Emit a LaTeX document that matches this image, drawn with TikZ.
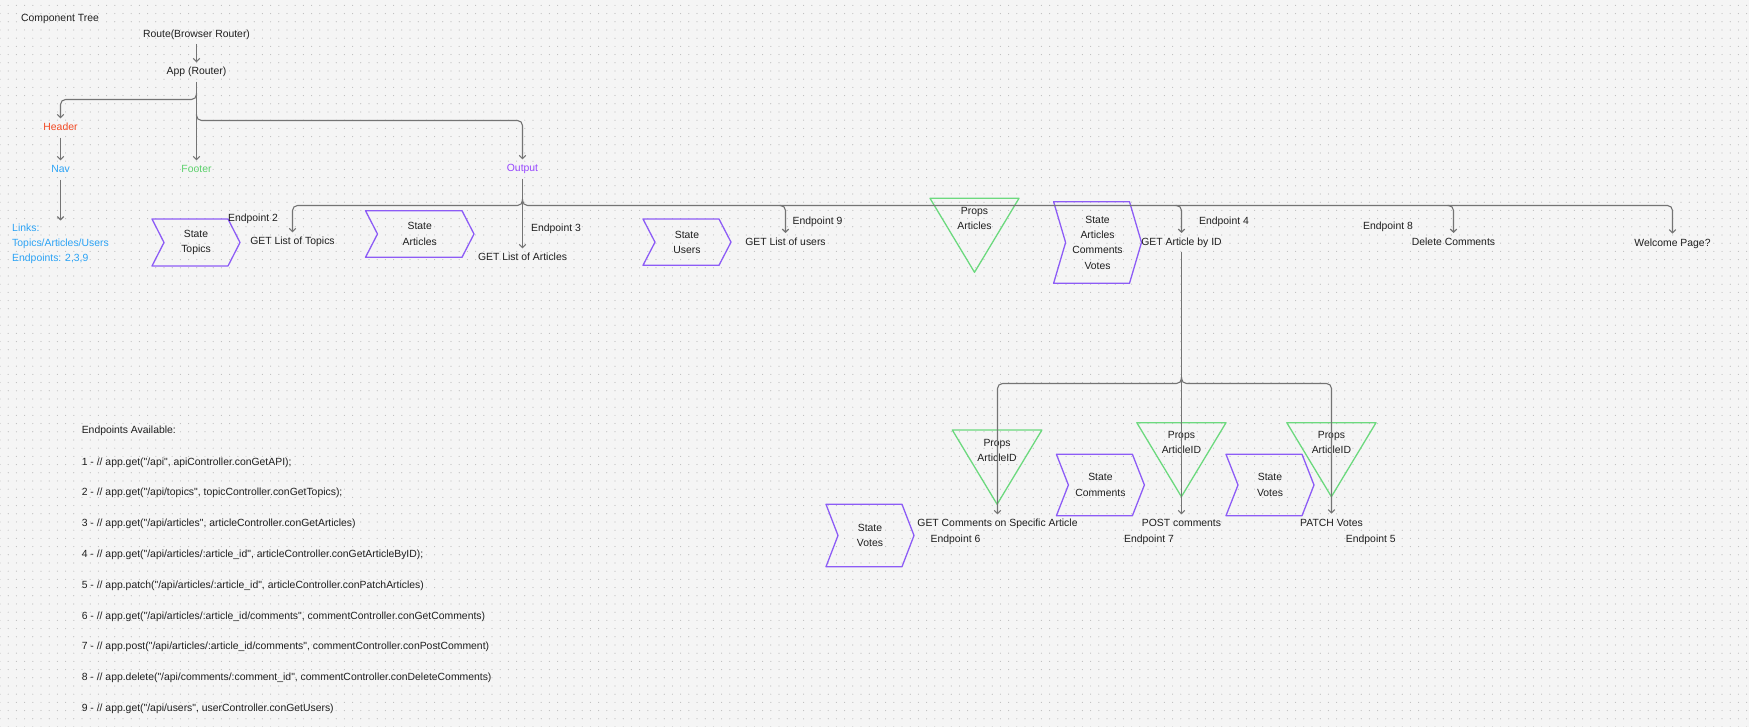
\documentclass[tikz,border=0pt]{standalone}
\usepackage{fontspec}
\setmainfont{Liberation Sans}[Ligatures=TeXOff]
\usetikzlibrary{arrows.meta,patterns.meta,calc}

\definecolor{canvas}{HTML}{F5F5F5}
\definecolor{dotgray}{HTML}{BDBDBD}
\definecolor{ink}{HTML}{1E1E1E}
\definecolor{wire}{HTML}{747474}
\definecolor{hdrred}{HTML}{F24822}
\definecolor{navblue}{HTML}{2BA3F5}
\definecolor{leafgreen}{HTML}{5CD16C}
\definecolor{outpurple}{HTML}{9747FF}
\definecolor{stateline}{HTML}{8D5CF6}
\definecolor{propline}{HTML}{6CD97E}

% dotted canvas grid
\tikzdeclarepattern{
  name=canvasdots,
  type=uncolored,
  bounding box={(-4.1pt,-4.1pt) and (4.1pt,4.1pt)},
  tile size={(8.2pt,8.2pt)},
  code={\fill (0pt,0pt) circle (0.6pt);}
}

% state chevron: name, left, top, right, bottom, label
\newcommand\statechev[6]{%
  \draw[stateshape] (#2,#3) -- ({#4-12},#3) -- (#4,{(#3+#5)/2}) -- ({#4-12},#5)
    -- (#2,#5) -- ({#2+12},{(#3+#5)/2}) -- cycle;
  \node[multi] (#1) at ({(#2+#4)/2},{(#3+#5)/2}) {#6};
}
% props triangle: name, left, right, top, tip, label y, label
\newcommand\propstri[7]{%
  \draw[propshape] (#2,#4) -- (#3,#4) -- ({(#2+#3)/2},#5) -- cycle;
  \node[multi] (#1) at ({(#2+#3)/2},#6) {Props\\#7};
}
% drop from a bus line down to a node, with a rounded shoulder
\newcommand\busdrop[2]{%
  \draw[conn] ($(#2.north |- #1)+(-6,0)$) -- (#2.north |- #1) -- (#2.north);
}

\begin{document}
\begin{tikzpicture}[
  x=1pt, y=-1pt,
  font=\fontsize{10.4}{15.3}\selectfont, text=ink,
  lbl/.style={inner xsep=2pt, inner ysep=4.75pt, text height=7.5pt, text depth=2pt},
  multi/.style={align=center, inner sep=2pt},
  conn/.style={draw=wire, line width=1.1pt, rounded corners=5pt,
    -{Straight Barb[length=3.2pt,width=6.5pt]}},
  stateshape/.style={draw=stateline, line width=1.3pt, line join=round},
  propshape/.style={draw=propline, line width=1.3pt, line join=round},
]
% canvas
\fill[canvas] (0,0) rectangle (1749,727);
\useasboundingbox (0,0) rectangle (1749,727);
\fill[pattern=canvasdots, pattern color=dotgray] (0,0) rectangle (1749,727);

% title
\node[lbl] (title) at (60,19) {Component Tree};

% router tree
\node[lbl] (route) at (196.5,34.3) {Route(Browser Router)};
\node[lbl] (app) at (196.5,72) {App (Router)};
\node[lbl, text=hdrred] (header) at (60.5,128) {Header};
\node[lbl, text=navblue] (nav) at (60.5,170) {Nav};
\node[multi, align=left, text=navblue, anchor=north, inner ysep=3pt] (links) at (60.5,220.5)
  {Links:\\Topics/Articles/Users\\Endpoints: 2,3,9};
\node[lbl, text=leafgreen] (footer) at (196.5,170) {Footer};
\node[lbl, text=outpurple] (output) at (522.5,169) {Output};

% junction points
\coordinate (hsplitTop) at (196.5,93.5);
\coordinate (hsplit) at (196.5,99.5);
\coordinate (osplitTop) at (196.5,114.5);
\coordinate (osplit) at (196.5,120.5);
\coordinate (busTop) at (522.5,199.5);
\coordinate (bus) at (522.5,205.5);
\coordinate (splitTop) at (1181.5,377.5);
\coordinate (split) at (1181.5,383.5);

% state and props shapes
\statechev{stTopics}{152}{219}{240}{266}{State\\Topics}
\statechev{stArticles}{365.5}{210.7}{474}{257.3}{State\\Articles}
\statechev{stUsers}{643}{219}{731}{265.3}{State\\Users}
\statechev{stArticle}{1053.6}{201.7}{1141.5}{283.3}{State\\Articles\\Comments\\Votes}
\statechev{stComments}{1056.4}{454.3}{1144.4}{515.7}{State\\Comments}
\statechev{stVotesA}{1226}{454.3}{1314}{515.7}{State\\Votes}
\statechev{stVotesB}{826}{504.3}{914}{566.7}{State\\Votes}

\propstri{prArticles}{930}{1019}{198.3}{272.3}{218.2}{Articles}
\propstri{prIdA}{952.3}{1041.9}{430}{504.3}{450.2}{ArticleID}
\propstri{prIdB}{1136.8}{1226}{422.7}{496.7}{442.7}{ArticleID}
\propstri{prIdC}{1286.8}{1376}{422.7}{496.7}{442.7}{ArticleID}

% route targets
\node[lbl] (gettopics) at (292.5,242) {GET List of Topics};
\node[lbl] (getarticles) at (522.5,258) {GET List of Articles};
\node[lbl] (getusers) at (785.5,242.7) {GET List of users};
\node[lbl] (getbyid) at (1181.5,242.7) {GET Article by ID};
\node[lbl] (delcomments) at (1453.5,242.7) {Delete Comments};
\node[lbl] (welcome) at (1672.5,243.3) {Welcome Page?};
\node[lbl] (getcomments) at (997.5,524) {GET Comments on Specific Article};
\node[lbl] (postcomments) at (1181.5,524) {POST comments};
\node[lbl] (patchvotes) at (1331.5,523.3) {PATCH Votes};

% endpoint tags
\node[lbl] (ep2) at (253,219) {Endpoint 2};
\node[lbl] (ep3) at (556,228.3) {Endpoint 3};
\node[lbl] (ep9) at (817.5,222) {Endpoint 9};
\node[lbl] (ep4) at (1224,222) {Endpoint 4};
\node[lbl] (ep8) at (1388,227) {Endpoint 8};
\node[lbl] (ep6) at (955.5,540) {Endpoint 6};
\node[lbl] (ep7) at (1149,540) {Endpoint 7};
\node[lbl] (ep5) at (1370.8,540) {Endpoint 5};

% connectors: router tree
\draw[conn] (route) -- (app);
\draw[conn] (app) -- (footer);
\draw[conn] (hsplitTop) -- (hsplit) -| (header.north);
\draw[conn] (osplitTop) -- (osplit) -| (output.north);
\draw[conn] (header) -- (nav);
\draw[conn] (nav) -- (links);

% connectors: output bus
\draw[conn] (output) -- (getarticles);
\draw[conn] (busTop) -- (bus) -| (gettopics.north);
\draw[conn] (busTop) -- (bus) -| (welcome.north);
\busdrop{bus}{getusers}
\busdrop{bus}{getbyid}
\busdrop{bus}{delcomments}

% connectors: article by id
\draw[conn] (getbyid) -- (postcomments);
\draw[conn] (splitTop) -- (split) -| (getcomments.north);
\draw[conn] (splitTop) -- (split) -| (patchvotes.north);

% endpoint list
\node[lbl, anchor=west] (epHead) at (79.6,431) {Endpoints Available:};
\node[lbl, anchor=west] (epA) at (79.6,462.3) {1 - // app.get("/api", apiController.conGetAPI);};
\node[lbl, anchor=west] (epB) at (79.6,493.1) {2 - // app.get("/api/topics", topicController.conGetTopics);};
\node[lbl, anchor=west] (epC) at (79.6,523.9) {3 - // app.get("/api/articles", articleController.conGetArticles)};
\node[lbl, anchor=west] (epD) at (79.6,554.7) {4 - // app.get("/api/articles/:article\_id", articleController.conGetArticleByID);};
\node[lbl, anchor=west] (epE) at (79.6,585.5) {5 - // app.patch("/api/articles/:article\_id", articleController.conPatchArticles)};
\node[lbl, anchor=west] (epF) at (79.6,616.3) {6 - // app.get("/api/articles/:article\_id/comments", commentController.conGetComments)};
\node[lbl, anchor=west] (epG) at (79.6,647.1) {7 - // app.post("/api/articles/:article\_id/comments", commentController.conPostComment)};
\node[lbl, anchor=west] (epH) at (79.6,677.9) {8 - // app.delete("/api/comments/:comment\_id", commentController.conDeleteComments)};
\node[lbl, anchor=west] (epI) at (79.6,708.7) {9 - // app.get("/api/users", userController.conGetUsers)};
\end{tikzpicture}
\end{document}
